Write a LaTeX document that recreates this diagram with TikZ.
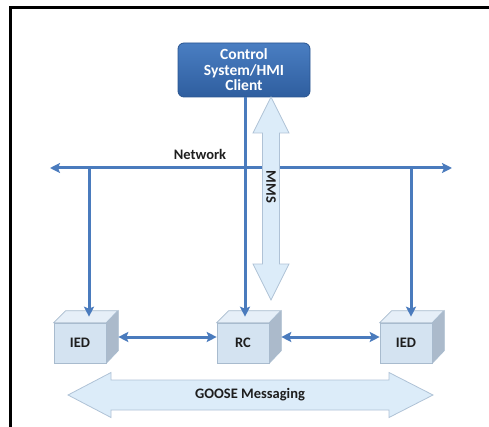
\documentclass[tikz,border=0pt]{standalone}
\usepackage{fontspec}
\setmainfont{Carlito}
\usetikzlibrary{arrows.meta,calc}
\definecolor{linkblue}{HTML}{4A7BBD}
\definecolor{boxtop}{HTML}{4A7EC2}
\definecolor{boxbot}{HTML}{2F5E9F}
\definecolor{boxedge}{HTML}{2A5590}
\definecolor{cubefront}{HTML}{D4E3F1}
\definecolor{cubetop}{HTML}{E6EFF8}
\definecolor{cubeside}{HTML}{ABBACB}
\definecolor{cubeedge}{HTML}{A8BBCE}
\definecolor{blockfill}{HTML}{DCECF9}
\definecolor{blockedge}{HTML}{AFC2D6}
\definecolor{labeltext}{HTML}{1E1E1E}
\tikzset{
  x=1pt, y=-1pt,
  link/.style={draw=linkblue, line width=3pt, -{Stealth[length=10pt,width=10pt,inset=2pt]}},
  duallink/.style={link, {Stealth[length=10pt,width=10pt,inset=2pt]}-{Stealth[length=10pt,width=10pt,inset=2pt]}},
  cubeface/.style={draw=cubeedge, line width=0.6pt, minimum width=52pt, minimum height=40pt,
    inner sep=0pt, fill=cubefront, font=\bfseries\fontsize{14.5}{16}\selectfont, text=labeltext},
  blockarrow/.style={draw=blockedge, line width=0.8pt, fill=blockfill},
  lbl/.style={font=\bfseries\fontsize{14.5}{16}\selectfont, text=labeltext},
  client/.style={draw=boxedge, line width=0.8pt, rounded corners=6pt, top color=boxtop, bottom color=boxbot,
    minimum width=132pt, minimum height=54pt, align=center, text=white, inner sep=1pt,
    font=\bfseries\fontsize{15.5}{15.5}\selectfont},
}
\newcommand{\cubefaces}[1]{%
  \draw[draw=cubeedge, line width=0.6pt, fill=cubetop] (#1.north west) -- ++(12,-12) -- ++(52,0) -- (#1.north east) -- cycle;
  \draw[draw=cubeedge, line width=0.6pt, fill=cubeside] (#1.north east) -- ++(12,-12) -- ++(0,40) -- (#1.south east) -- cycle;
}
\begin{document}
\begin{tikzpicture}
\useasboundingbox (0,0) rectangle (489,427);
% frame
\draw[line width=2.4pt] (10.5,427) -- (10.5,7.5) -- (489,7.5);

% control system
\node[client] (hmi) at (244,70) {Control\\System/HMI\\Client};

% devices
\node[cubeface] (ied1) at (80,343) {IED};
\cubefaces{ied1}
\node[cubeface] (rc) at (243,343) {RC};
\cubefaces{rc}
\node[cubeface] (ied2) at (406,343) {IED};
\cubefaces{ied2}

% network bus
\coordinate (netL) at (50,168);
\coordinate (netR) at (452,168);
\coordinate (tapL) at (89,168);
\coordinate (tapR) at (411,168);
\draw[duallink] (netL) -- (netR);
\node[lbl] (netlbl) at (200,154) {Network};

% drops to devices
\draw[link] (tapL) -- ($(ied1.north)+(9,-6)$);
\draw[link] (tapR) -- ($(ied2.north)+(5,-6)$);
\draw[link] (hmi.south -| rc.north) ++(2,0) coordinate (rcsrc) -- ($(rc.north)+(2,-6)$);

% peer links
\draw[duallink] ($(ied1.east)+(12,-6)$) -- ($(rc.west)+(0,-6)$);
\draw[duallink] ($(rc.east)+(12,-6)$) -- ($(ied2.west)+(0,-6)$);

% MMS double block arrow
\draw[blockarrow] (271,97) -- (289,133) -- (279.5,133) -- (279.5,264) -- (289,264) -- (271,300)
  -- (253,264) -- (262.5,264) -- (262.5,133) -- (253,133) -- cycle;
\node[lbl, rotate=-90] (mms) at (271,187) {MMS};

% GOOSE double block arrow
\draw[blockarrow] (68,395) -- (111,372.5) -- (111,380) -- (389,380) -- (389,372.5) -- (433,395)
  -- (389,417.5) -- (389,410) -- (111,410) -- (111,417.5) -- cycle;
\node[lbl] (goose) at (250,395) {GOOSE Messaging};
\end{tikzpicture}
\end{document}
